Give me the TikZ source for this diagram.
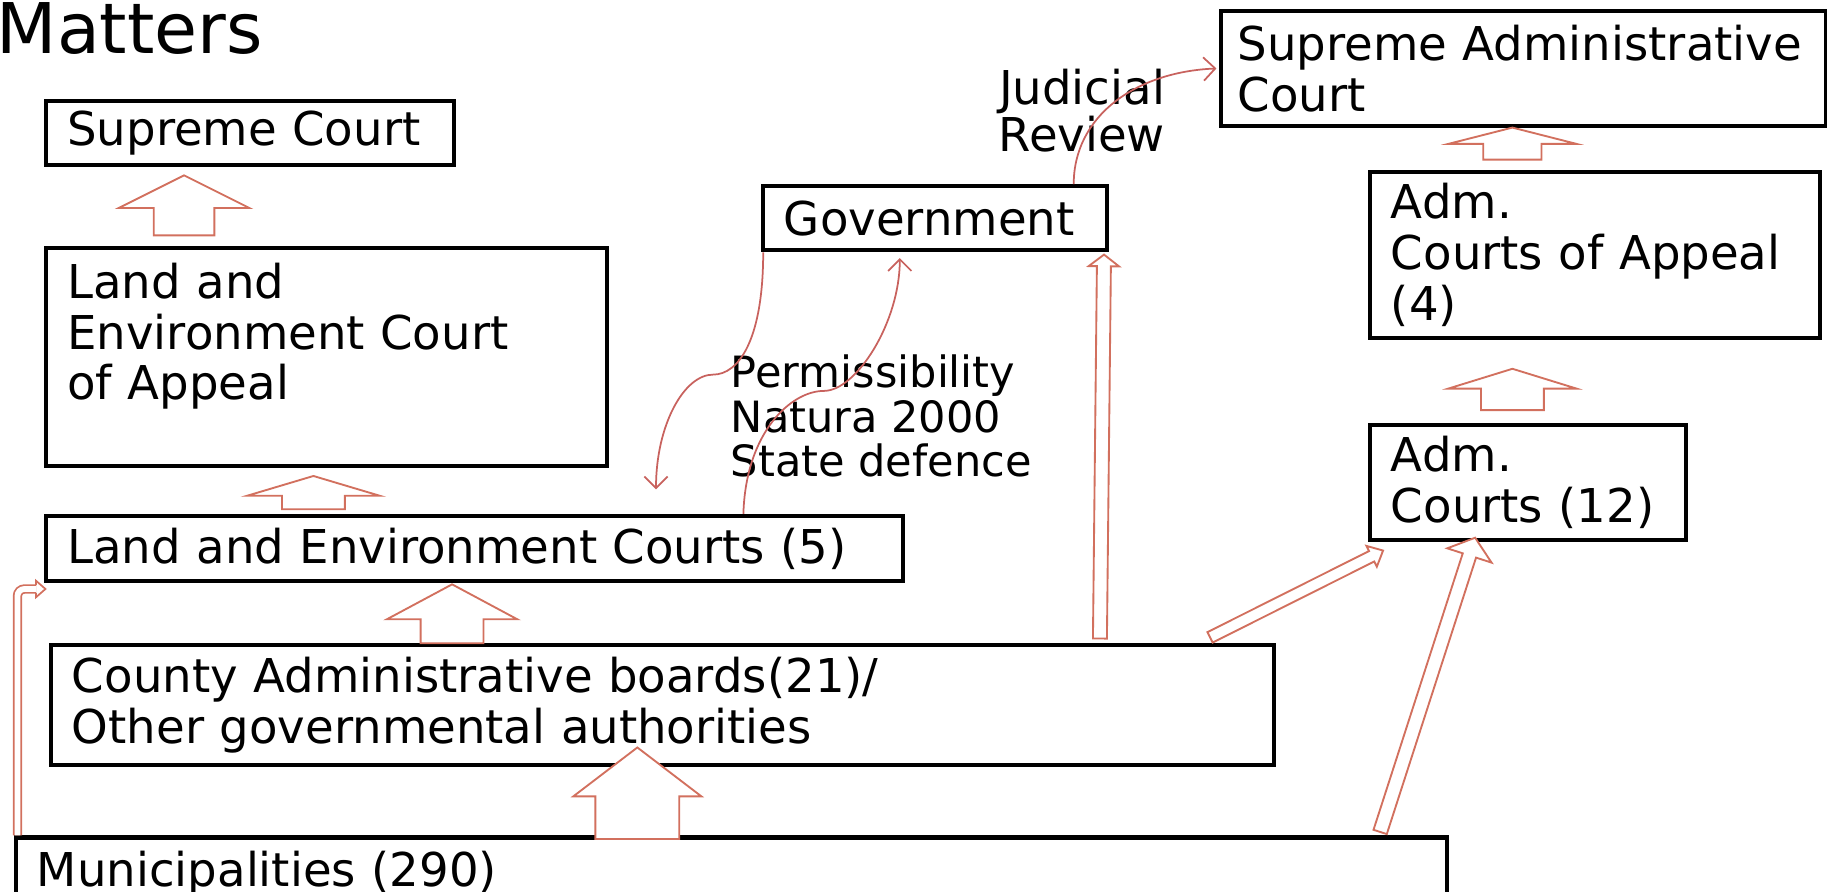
\documentclass[tikz,border=0pt]{standalone}
\usepackage{fontspec}
\setmainfont{DejaVu Sans}
\usetikzlibrary{calc, arrows.meta}
\definecolor{ArrowRed}{HTML}{D2705E}
\definecolor{CurveRed}{HTML}{C8625E}
\tikzset{
	court/.style={draw, line width=3.5pt, anchor=north west, inner xsep=18pt, inner ysep=0pt, align=left, font=\fontsize{40}{43.5}\selectfont},
	block/.style={draw=ArrowRed, line width=1.6pt, fill=white},
	curvy/.style={draw=CurveRed, line width=1.5pt, -{Straight Barb[length=10pt, width=20pt]}}
}
% hollow arrow: from, to, shaft half width, head half width, head length
\newcommand{\hollowarrow}[5]{%
	\coordinate (hb) at ($(#2)!#5pt!(#1)$);
	\draw[block] ($(#1)!#3pt!90:(#2)$) -- ($(hb)!#3pt!-90:(#1)$) -- ($(hb)!#4pt!-90:(#1)$) -- (#2) -- ($(hb)!#4pt!90:(#1)$) -- ($(hb)!#3pt!90:(#1)$) -- ($(#1)!#3pt!-90:(#2)$) -- cycle;
}

\begin{document}
\begin{tikzpicture}[x=1pt, y=-1pt]
	\useasboundingbox (0,0) rectangle (1568,765);
	\clip (0,0) rectangle (1568,765);
	
	\node[anchor=base west, inner sep=0, font=\fontsize{60}{66}\selectfont] (title) at (-3,46) {Matters};
	
	% general courts
	\node[court, text width=314, minimum height=55] (sc) at (38,85) {Supreme Court};
	\node[court, text width=445, minimum height=187] (lecap) at (38,211) {Land and\\Environment Court\\of Appeal\\\mbox{}};
	\node[court, text width=699, minimum height=56] (lec) at (38,441) {Land and Environment Courts (5)};
	\node[court, text width=1014, minimum height=103] (cab) at (42,552) {County Administrative boards(21)/\\Other governmental authorities};
	\node[court, text width=1192, minimum height=62] (mun) at (12,717) {Municipalities (290)};
	
	% administrative courts
	\node[court, text width=259, minimum height=55] (gov) at (653,158) {Government};
	\node[court, text width=490, inner xsep=14.5pt, minimum height=98] (sac) at (1046,8) {Supreme Administrative\\Court};
	\node[court, text width=350, minimum height=142] (acap) at (1174,146) {Adm.\\Courts of Appeal\\(4)};
	\node[court, text width=235, minimum height=99] (ac) at (1174,363) {Adm.\\Courts (12)};
	
	\node[anchor=east, align=right, inner sep=0, font=\fontsize{40}{40}\selectfont] (jr) at (1000,95) {Judicial\\Review};
	\node[anchor=west, align=left, inner sep=0, font=\fontsize{37}{38}\selectfont] (perm) at (627,357) {Permissibility\\Natura 2000\\State defence};
	
	\coordinate (t1) at ($(lecap.north west)+(120,-9)$);
	\coordinate (h1) at ($(sc.south west)+(120,7)$);
	\coordinate (t2) at ($(lec.north west)+(231,-4)$);
	\coordinate (h2) at ($(lecap.south west)+(231,7)$);
	\coordinate (t3) at ($(cab.north west)+(346,0)$);
	\coordinate (h3) at ($(lec.south west)+(350,1)$);
	\coordinate (t4) at ($(mun.north west)+(535,3)$);
	\coordinate (h4) at ($(cab.south west)+(505,-17)$);
	\coordinate (t5) at ($(acap.north west)+(124,-9)$);
	\coordinate (h5) at ($(sac.south west)+(252,0)$);
	\coordinate (t6) at ($(ac.north west)+(124,-11)$);
	\coordinate (h6) at ($(acap.south west)+(124,25)$);
	\coordinate (t7) at ($(cab.north west)+(902,-4)$);
	\coordinate (h7) at ($(gov.south east)+(-4,2)$);
	\coordinate (t8) at ($(cab.north east)+(-57,-5)$);
	\coordinate (h8) at ($(ac.south west)+(13,7)$);
	\coordinate (t9) at ($(mun.north east)+(-59,-3)$);
	\coordinate (h9) at ($(ac.south west)+(92,-4)$);
	
	\hollowarrow{t1}{h1}{26}{56}{28}
	\hollowarrow{t2}{h2}{27}{57}{17}
	\hollowarrow{t3}{h3}{27}{56}{30}
	\hollowarrow{t4}{h4}{36}{55}{42}
	\hollowarrow{t5}{h5}{25}{55}{14}
	\hollowarrow{t6}{h6}{27}{55}{17}
	\hollowarrow{t7}{h7}{6}{13}{10}
	\hollowarrow{t8}{h8}{5}{10}{11}
	\hollowarrow{t9}{h9}{6}{20}{16}
	
	% municipalities to land and environment courts
	\coordinate (e1) at ($(mun.north west)+(3,0)$);
	\coordinate (e2) at ($(lec.south west)+(1,5)$);
	\draw[ArrowRed, line width=1.5pt, double=white, double distance=5pt, rounded corners=6pt] (e1) |- ($(e2)+(-8,0)$);
	\draw[ArrowRed, line width=1.5pt] ($(e2)+(-8,-3.25)$) -- ($(e2)+(-8,-7)$) -- (e2) -- ($(e2)+(-8,7)$) -- ($(e2)+(-8,3.25)$);
	
	% permissibility cases
	\coordinate (g1) at ($(lec.north west)+(525,-21)$);
	\draw[curvy] ($(gov.south west)+(2,0)$) .. controls +(0,75) and +(22,0) .. ($(gov.south west)+(-41,105)$) .. controls +(-25,0) and +(0,-55) .. (g1);
	\draw[curvy] ($(lec.north west)+(600,0)$) .. controls +(2,-70) and +(-28,0) .. ($(gov.south west)+(54,119)$) .. controls +(28,0) and +(0,55) .. ($(gov.south)+(-30,5)$);
	\draw[curvy] ($(gov.north east)+(-30,0)$) .. controls +(0,-58) and +(-70,3) .. ($(sac.west)+(-2,0)$);
\end{tikzpicture}
\end{document}
